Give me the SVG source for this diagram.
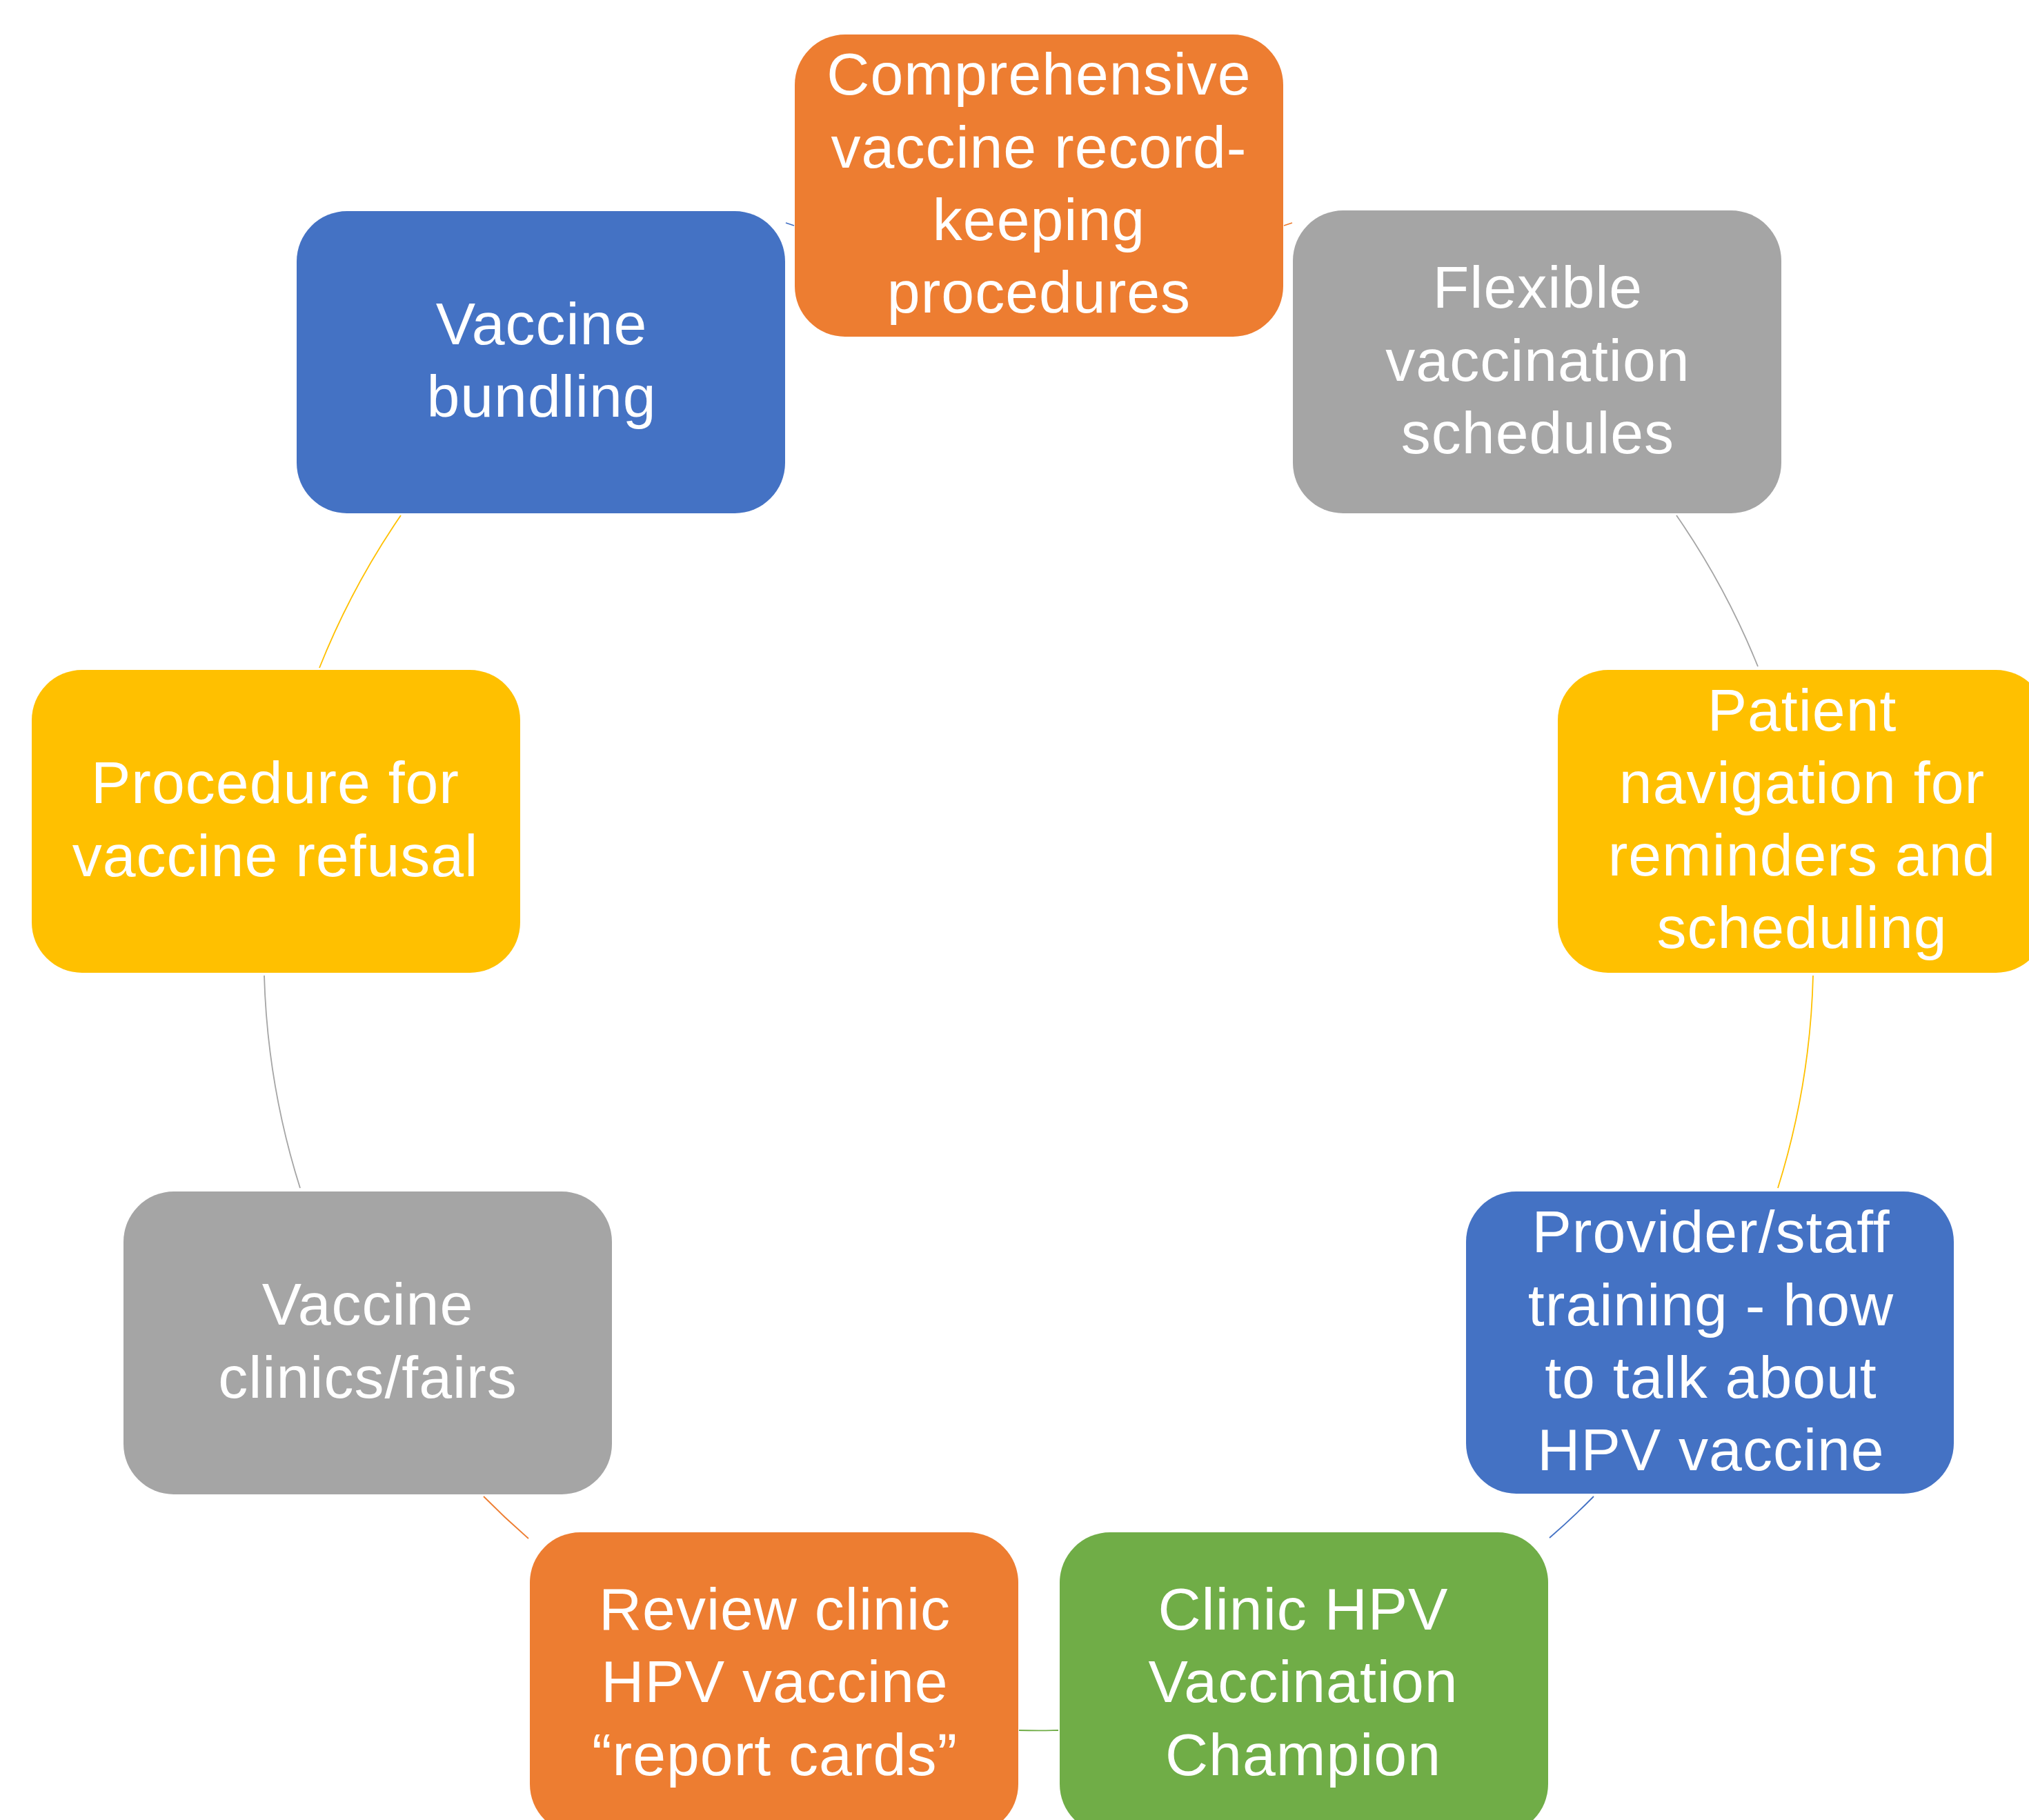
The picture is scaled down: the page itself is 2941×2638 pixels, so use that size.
<svg xmlns="http://www.w3.org/2000/svg" width="2941" height="2638" viewBox="0 0 2941 2638">
  <style>
    .box { stroke: none; }
    .orange { fill: #ED7D31; }
    .gray { fill: #A5A5A5; }
    .gold { fill: #FFC000; }
    .blue { fill: #4472C4; }
    .green { fill: #70AD47; }
    .label { font-family: "Liberation Sans", Arial, sans-serif; font-size: 86px; letter-spacing: 1px; fill: #FFFFFF; text-anchor: middle; }
    .link { fill: none; stroke-width: 1.8; }
  </style>
  <rect width="2941" height="2638" fill="#FFFFFF"/>

  <!-- connectors: arcs of one circle, centre (1506,1386), r 1123 -->
  <g id="connectors">
    <path class="link" stroke="#4472C4" d="M1139,323 L1151,327"/>
    <path class="link" stroke="#ED7D31" d="M1861,327 L1873,323"/>
    <path class="link" stroke="#A5A5A5" d="M2430,747 A1123,1123 0 0 1 2548,966"/>
    <path class="link" stroke="#FFC000" d="M2628,1414 A1123,1123 0 0 1 2577,1722"/>
    <path class="link" stroke="#4472C4" d="M2310,2169 A1123,1123 0 0 1 2246,2229"/>
    <path class="link" stroke="#70AD47" d="M1534,2508 A1123,1123 0 0 1 1477,2508"/>
    <path class="link" stroke="#ED7D31" d="M766,2230 A1123,1123 0 0 1 701,2169"/>
    <path class="link" stroke="#A5A5A5" d="M435,1722 A1123,1123 0 0 1 383,1414"/>
    <path class="link" stroke="#FFC000" d="M463,968 A1123,1123 0 0 1 581,747"/>
  </g>

  <g id="node-record-keeping">
    <rect class="box orange" x="1152" y="50" width="708" height="438" rx="73"/>
    <text class="label" x="1506" y="137">Comprehensive</text>
    <text class="label" x="1506" y="243">vaccine record-</text>
    <text class="label" x="1506" y="348">keeping</text>
    <text class="label" x="1506" y="453">procedures</text>
  </g>

  <g id="node-flexible-schedules">
    <rect class="box gray" x="1874" y="305" width="708" height="439" rx="73"/>
    <text class="label" x="2229" y="446">Flexible</text>
    <text class="label" x="2229" y="552">vaccination</text>
    <text class="label" x="2229" y="657">schedules</text>
  </g>

  <g id="node-patient-navigation">
    <rect class="box gold" x="2258" y="971" width="708" height="439" rx="73"/>
    <text class="label" x="2612" y="1059">Patient</text>
    <text class="label" x="2612" y="1164">navigation for</text>
    <text class="label" x="2612" y="1269">reminders and</text>
    <text class="label" x="2612" y="1374">scheduling</text>
  </g>

  <g id="node-staff-training">
    <rect class="box blue" x="2125" y="1727" width="707" height="438" rx="73"/>
    <text class="label" x="2480" y="1815">Provider/staff</text>
    <text class="label" x="2480" y="1921">training - how</text>
    <text class="label" x="2480" y="2026">to talk about</text>
    <text class="label" x="2480" y="2131">HPV vaccine</text>
  </g>

  <g id="node-champion">
    <rect class="box green" x="1536" y="2221" width="708" height="438" rx="73"/>
    <text class="label" x="1889" y="2362">Clinic HPV</text>
    <text class="label" x="1889" y="2467">Vaccination</text>
    <text class="label" x="1889" y="2573">Champion</text>
  </g>

  <g id="node-report-cards">
    <rect class="box orange" x="768" y="2221" width="708" height="438" rx="73"/>
    <text class="label" x="1123" y="2362">Review clinic</text>
    <text class="label" x="1123" y="2467">HPV vaccine</text>
    <text class="label" x="1123" y="2573">“report cards”</text>
  </g>

  <g id="node-clinics-fairs">
    <rect class="box gray" x="179" y="1727" width="708" height="439" rx="73"/>
    <text class="label" x="533" y="1920">Vaccine</text>
    <text class="label" x="533" y="2026">clinics/fairs</text>
  </g>

  <g id="node-refusal">
    <rect class="box gold" x="46" y="971" width="708" height="439" rx="73"/>
    <text class="label" x="399" y="1164">Procedure for</text>
    <text class="label" x="399" y="1270">vaccine refusal</text>
  </g>

  <g id="node-bundling">
    <rect class="box blue" x="430" y="306" width="708" height="438" rx="73"/>
    <text class="label" x="785" y="499">Vaccine</text>
    <text class="label" x="785" y="604">bundling</text>
  </g>
</svg>
